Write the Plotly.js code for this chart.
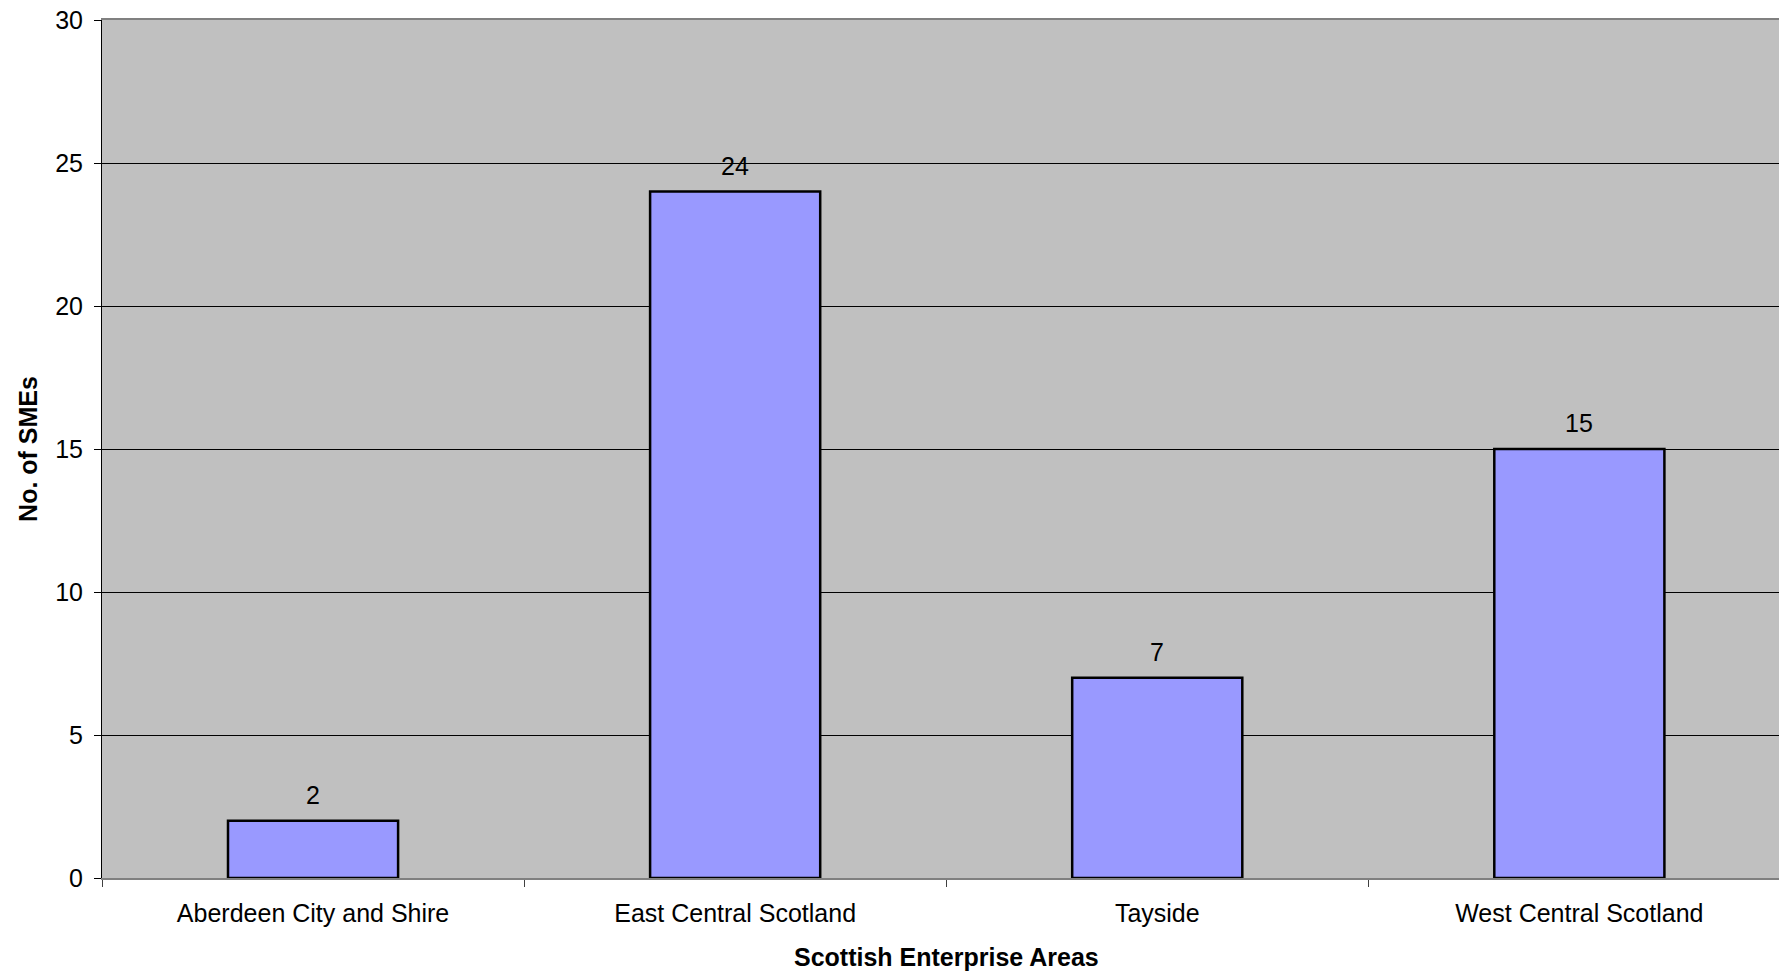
<!DOCTYPE html>
<html>
<head>
<meta charset="utf-8">
<script src="https://cdn.plot.ly/plotly-3.0.1.min.js"></script>
<style>
  html, body { margin: 0; padding: 0; background: #ffffff; overflow: hidden; }
  #chart { width: 1779px; height: 976px; }
</style>
</head>
<body>
<div id="chart"></div>
<script>
// Number of SMEs per Scottish Enterprise area
const areas = ["Aberdeen City and Shire", "East Central Scotland", "Tayside", "West Central Scotland"];
const smeCounts = [2, 24, 7, 15];

const yTickValues = [0, 5, 10, 15, 20, 25, 30];

const xTitle = "Scottish Enterprise Areas";
const yTitle = "No. of SMEs";

const fontFamily = "Liberation Sans, Arial, sans-serif";

const barTrace = {
  type: "bar",
  x: areas,
  y: smeCounts,
  marker: {
    color: "#9999FF",
    line: { color: "#000000", width: 2.5 }
  },
  hoverinfo: "x+y"
};

// Value labels sitting above each bar
const valueLabels = areas.map((a, i) => ({
  x: a,
  y: smeCounts[i],
  xref: "x",
  yref: "y",
  text: String(smeCounts[i]),
  showarrow: false,
  yanchor: "bottom",
  yshift: 10,
  font: { family: fontFamily, size: 25, color: "#000000" }
}));

// x-axis title, centred under the middle of the four category slots
const xTitleNote = {
  x: (areas.length - 1) / 2,
  y: 0,
  xref: "x",
  yref: "paper",
  text: "<b>" + xTitle + "</b>",
  showarrow: false,
  xanchor: "center",
  yanchor: "middle",
  yshift: -79,
  font: { family: fontFamily, size: 25, color: "#000000" }
};

const layout = {
  width: 1779,
  height: 976,
  margin: { l: 102, r: 0, t: 20, b: 98 },
  paper_bgcolor: "#ffffff",
  plot_bgcolor: "#C0C0C0",
  font: { family: fontFamily, size: 25, color: "#000000" },
  bargap: 0.597,
  showlegend: false,
  xaxis: {
    type: "category",
    range: [-0.5, 3.473],
    tickson: "boundaries",
    ticks: "outside",
    ticklen: 7,
    tickwidth: 1,
    tickcolor: "#404040",
    showgrid: false,
    showline: true,
    linecolor: "#808080",
    linewidth: 2,
    mirror: true,
    ticklabelstandoff: 12,
    tickfont: { size: 25, color: "#000000" },
    fixedrange: true
  },
  yaxis: {
    range: [0, 30],
    tickvals: yTickValues,
    ticktext: yTickValues.map(String),
    ticks: "outside",
    ticklen: 7,
    tickwidth: 1,
    tickcolor: "#000000",
    showgrid: true,
    gridcolor: "#000000",
    gridwidth: 1,
    zeroline: false,
    showline: true,
    linecolor: "#000000",
    linewidth: 1,
    ticklabelstandoff: 6,
    tickfont: { size: 25, color: "#000000" },
    title: {
      text: yTitle,
      font: { size: 25, color: "#000000", weight: "bold" },
      standoff: 10
    },
    fixedrange: true
  },
  annotations: valueLabels.concat([xTitleNote])
};

Plotly.newPlot("chart", [barTrace], layout, { displayModeBar: false, staticPlot: true });
</script>
</body>
</html>
